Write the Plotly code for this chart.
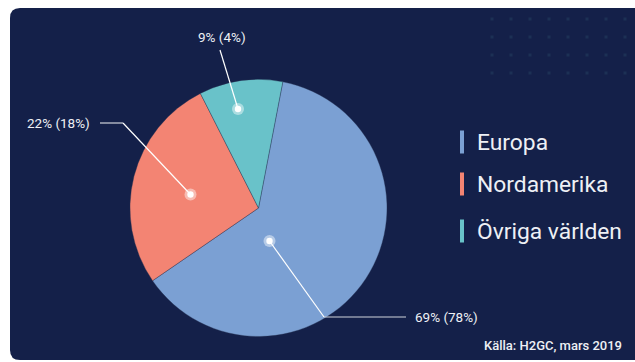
import plotly.graph_objects as go

# ---- data ----
regions = ["Europa", "Nordamerika", "Övriga världen"]
slice_share = [62.4, 27.1, 10.5]          # share of circle as drawn
label_texts = ["69% (78%)", "22% (18%)", "9% (4%)"]
source_text = "Källa: H2GC, mars 2019"

# ---- style ----
W, H = 635, 362
NAVY = "#142049"
colors = ["#7ba0d3", "#f38473", "#69c2c9"]
FONT = "Roboto"

# pie placement (pixels)
cx, cy, R = 258.5, 208.0, 128.5
rotation = 10.9

# label anchors (dot, elbow, line end, text pos, anchor)
anchors = [
    dict(dot=(269.5, 241), elbow=(324, 317), end=(406, 317), txt=(413, 317), xa="left"),
    dict(dot=(190.5, 194.5), elbow=(123, 123), end=(100, 123), txt=(92, 123), xa="right"),
    dict(dot=(238, 109), elbow=(220, 50), end=(220, 50), txt=(221.5, 37), xa="center"),
]

fig = go.Figure()

# dot grid in the top-right corner
gx, gy = [], []
for yy in [19, 37, 55, 73]:
    for xx in [492, 511, 530, 549, 568, 587, 606, 625]:
        gx.append(xx)
        gy.append(yy)
fig.add_trace(go.Scatter(x=gx, y=gy, mode="markers",
                         marker=dict(symbol="square", size=3, color="#1c3055"),
                         hoverinfo="skip", showlegend=False))

fig.add_trace(go.Pie(
    labels=regions, values=slice_share, sort=False, direction="clockwise",
    rotation=rotation, textinfo="none", hoverinfo="label",
    marker=dict(colors=colors, line=dict(color="rgba(40,50,80,0.6)", width=0.6)),
    domain=dict(x=[(cx - R) / W, (cx + R) / W], y=[(H - cy - R) / H, (H - cy + R) / H]),
    showlegend=False,
))

shapes = []
# rounded navy panel
x0, y0, x1, y1, r = 10, 8, 645, 360, 10
path = (f"M {x0+r},{y0} L {x1},{y0} L {x1},{y1} L {x0+r},{y1} "
        f"Q {x0},{y1} {x0},{y1-r} L {x0},{y0+r} Q {x0},{y0} {x0+r},{y0} Z")
shapes.append(dict(type="path", path=path, xref="x", yref="y", layer="below",
                   fillcolor=NAVY, line=dict(width=0)))

annotations = []
for a, t in zip(anchors, label_texts):
    (dx, dy), (ex, ey), (fx, fy) = a["dot"], a["elbow"], a["end"]
    shapes.append(dict(type="line", x0=dx, y0=dy, x1=ex, y1=ey, xref="x", yref="y",
                       layer="above", line=dict(color="white", width=1.2)))
    if (fx, fy) != (ex, ey):
        shapes.append(dict(type="line", x0=ex, y0=ey, x1=fx, y1=fy, xref="x", yref="y",
                           layer="above", line=dict(color="#d0d3dc", width=1.2)))
    shapes.append(dict(type="circle", x0=dx - 6, y0=dy - 6, x1=dx + 6, y1=dy + 6,
                       xref="x", yref="y", layer="above",
                       fillcolor="rgba(255,255,255,0.45)", line=dict(width=0)))
    shapes.append(dict(type="circle", x0=dx - 3.2, y0=dy - 3.2, x1=dx + 3.2, y1=dy + 3.2,
                       xref="x", yref="y", layer="above",
                       fillcolor="white", line=dict(width=0)))
    annotations.append(dict(x=a["txt"][0], y=a["txt"][1], xref="x", yref="y", text=t,
                            showarrow=False, xanchor=a["xa"], yanchor="middle",
                            font=dict(family=FONT, size=13.5, color="#eef0f5")))

# custom legend
leg_y = [142, 184, 231]
for name, col, yy in zip(regions, colors, leg_y):
    shapes.append(dict(type="rect", x0=460, x1=464, y0=yy - 11.5, y1=yy + 11.5,
                       xref="x", yref="y", layer="above", fillcolor=col, line=dict(width=0)))
    annotations.append(dict(x=475, y=yy, xref="x", yref="y", text=name, showarrow=False,
                            xanchor="left", yanchor="middle",
                            font=dict(family=FONT, size=22.8, color="#eef0f5")))

annotations.append(dict(x=624, y=345, xref="x", yref="y", text=source_text, showarrow=False,
                        xanchor="right", yanchor="middle",
                        font=dict(family=FONT, size=13, color="#eef0f5", weight=500)))

fig.update_layout(
    width=W, height=H, margin=dict(l=0, r=0, t=0, b=0),
    paper_bgcolor="white", plot_bgcolor="rgba(0,0,0,0)",
    xaxis=dict(range=[0, W], visible=False, domain=[0, 1], fixedrange=True),
    yaxis=dict(range=[H, 0], visible=False, domain=[0, 1], fixedrange=True),
    shapes=shapes, annotations=annotations, showlegend=False,
)

fig.write_html("out.html")
